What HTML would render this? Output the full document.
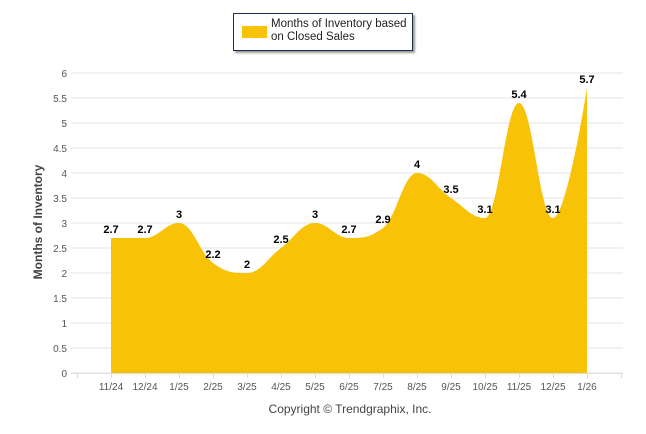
<!DOCTYPE html>
<html><head><meta charset="utf-8"><style>
body{margin:0;background:#fff;font-family:"Liberation Sans",sans-serif}
#wrap{position:relative;width:646px;height:434px;overflow:hidden}
#legend{position:absolute;left:233px;top:13px;width:178px;height:36px;border:1px solid #1f2d4d;box-shadow:2px 2px 2px #999;background:#fff}
#legend .sw{position:absolute;left:8px;top:12px;width:25px;height:12px;background:#F8C307}
#legend .tx{position:absolute;left:37px;top:4px;font-size:11.5px;line-height:13px;color:#222;white-space:nowrap}
</style></head><body>
<div id="wrap">
<svg id="svg" width="646" height="434"></svg>
<div id="legend"><div class="sw"></div><div class="tx">Months of Inventory based<br>on Closed Sales</div></div>
</div>
<script>
const categories=["11/24","12/24","1/25","2/25","3/25","4/25","5/25","6/25","7/25","8/25","9/25","10/25","11/25","12/25","1/26"];
const values=[2.7,2.7,3,2.2,2,2.5,3,2.7,2.9,4,3.5,3.1,5.4,3.1,5.7];
const yTicks=[0,0.5,1,1.5,2,2.5,3,3.5,4,4.5,5,5.5,6];
const NS="http://www.w3.org/2000/svg";
const svg=document.getElementById('svg');
const x0=111,dx=34,yBase=373,yScale=50;
const X=i=>x0+i*dx, Y=v=>yBase-v*yScale;
function mk(t,a){const e=document.createElementNS(NS,t);for(const k in a)e.setAttribute(k,a[k]);svg.appendChild(e);return e;}
yTicks.forEach(v=>{
 const l=mk('line',{x1:71,x2:623,y1:Y(v),y2:Y(v),stroke:'#e6e6e6','stroke-width':1});
 
 
 const t=mk('text',{x:67,y:Y(v)+4,'text-anchor':'end','font-size':'10',fill:'#555'});
 t.textContent=v;
 
 
});
const pts=values.map((v,i)=>[X(i),Y(v)]);
let d=`M${pts[0][0]},${pts[0][1]}`;
const sm=1.5,den=sm+1;
function ctrl(i){
 const p=pts[i],pr=pts[i-1],nx=pts[i+1];
 let lx=(sm*p[0]+pr[0])/den,ly=(sm*p[1]+pr[1])/den,rx=(sm*p[0]+nx[0])/den,ry=(sm*p[1]+nx[1])/den;
 let cor=0;
 if(rx!==lx) cor=((ry-ly)*(rx-p[0]))/(rx-lx)+p[1]-ry;
 ly+=cor;ry+=cor;
 if(ly>pr[1]&&ly>p[1]){ly=Math.max(pr[1],p[1]);ry=2*p[1]-ly;}
 else if(ly<pr[1]&&ly<p[1]){ly=Math.min(pr[1],p[1]);ry=2*p[1]-ly;}
 if(ry>nx[1]&&ry>p[1]){ry=Math.max(nx[1],p[1]);ly=2*p[1]-ry;}
 else if(ry<nx[1]&&ry<p[1]){ry=Math.min(nx[1],p[1]);ly=2*p[1]-ry;}
 return [[lx,ly],[rx,ry]];
}
const cs=pts.map((p,i)=>(i>0&&i<pts.length-1)?ctrl(i):[p,p]);
for(let i=1;i<pts.length;i++){
 const a=cs[i-1][1],b=cs[i][0];
 d+=` C${a[0]},${a[1]} ${b[0]},${b[1]} ${pts[i][0]},${pts[i][1]}`;
}
d+=` L${X(values.length-1)},${yBase} L${X(0)},${yBase} Z`;
const area=mk('path',{d,fill:'#F8C307'});


const ax=mk('line',{x1:71,x2:623,y1:yBase+0.5,y2:yBase+0.5,stroke:'#ddd'});


for(let i=-1;i<=categories.length;i++){
 const tk=mk('line',{x1:X(i)+0.5,x2:X(i)+0.5,y1:yBase,y2:yBase+5,stroke:'#ddd'});
 
 
}
categories.forEach((c,i)=>{
 const t=mk('text',{x:X(i),y:390,'text-anchor':'middle','font-size':'10',fill:'#555'});
 t.textContent=c;
 
 
 const l=mk('text',{x:X(i),y:Y(values[i])-5,'text-anchor':'middle','font-size':'11','font-weight':'bold',fill:'#000'});
 l.textContent=values[i];
 
 
});
const yt=mk('text',{x:0,y:0,transform:'translate(42,222) rotate(-90)','text-anchor':'middle','font-size':'12','font-weight':'bold',fill:'#444'});
yt.textContent='Months of Inventory';


const cp=mk('text',{x:350,y:413,'text-anchor':'middle','font-size':'12',fill:'#444'});
cp.textContent='Copyright © Trendgraphix, Inc.';


</script>
</body></html>
